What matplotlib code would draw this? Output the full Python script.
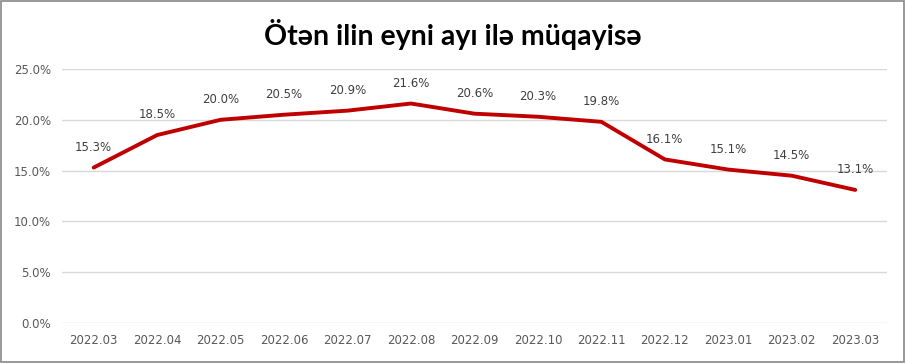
import matplotlib.pyplot as plt
from matplotlib.ticker import FuncFormatter

months = ["2022.03", "2022.04", "2022.05", "2022.06", "2022.07", "2022.08", "2022.09",
          "2022.10", "2022.11", "2022.12", "2023.01", "2023.02", "2023.03"]
values = [15.3, 18.5, 20.0, 20.5, 20.9, 21.6, 20.6, 20.3, 19.8, 16.1, 15.1, 14.5, 13.1]
title = "Ötən ilin eyni ayı ilə müqayisə"

fig = plt.figure(figsize=(9.06, 3.63), dpi=100)
ax = fig.add_axes([0.0684, 0.110, 0.9106, 0.700])

x = range(len(months))
ax.plot(x, values, color="#C00000", linewidth=2.8, solid_capstyle="round", zorder=3)
for i, v in zip(x, values):
    ax.annotate(f"{v:.1f}%", (i, v), xytext=(0, 10), textcoords="offset points",
                ha="center", va="bottom", fontsize=8.5, color="#404040")

ax.set_xlim(-0.5, len(months) - 0.5)
ax.set_ylim(0, 25)
ax.set_yticks([0, 5, 10, 15, 20, 25])
ax.yaxis.set_major_formatter(FuncFormatter(lambda v, p: f"{v:.1f}%"))
ax.set_xticks(list(x))
ax.set_xticklabels(months)
ax.tick_params(length=0, labelsize=8.5, labelcolor="#595959", pad=8)
ax.grid(axis="y", color="#d9d9d9", linewidth=1)
ax.set_axisbelow(True)
for s in ax.spines.values():
    s.set_visible(False)

fig.text(0.5, 0.905, title, ha="center", va="center", fontsize=20.5,
         fontweight="bold", family="Lato", color="black")

fig.patches.append(plt.Rectangle((0.001, 0.002), 0.997, 0.995, transform=fig.transFigure,
                                 fill=False, edgecolor="#888888", linewidth=1.2))

fig.savefig("out.png", dpi=100)
